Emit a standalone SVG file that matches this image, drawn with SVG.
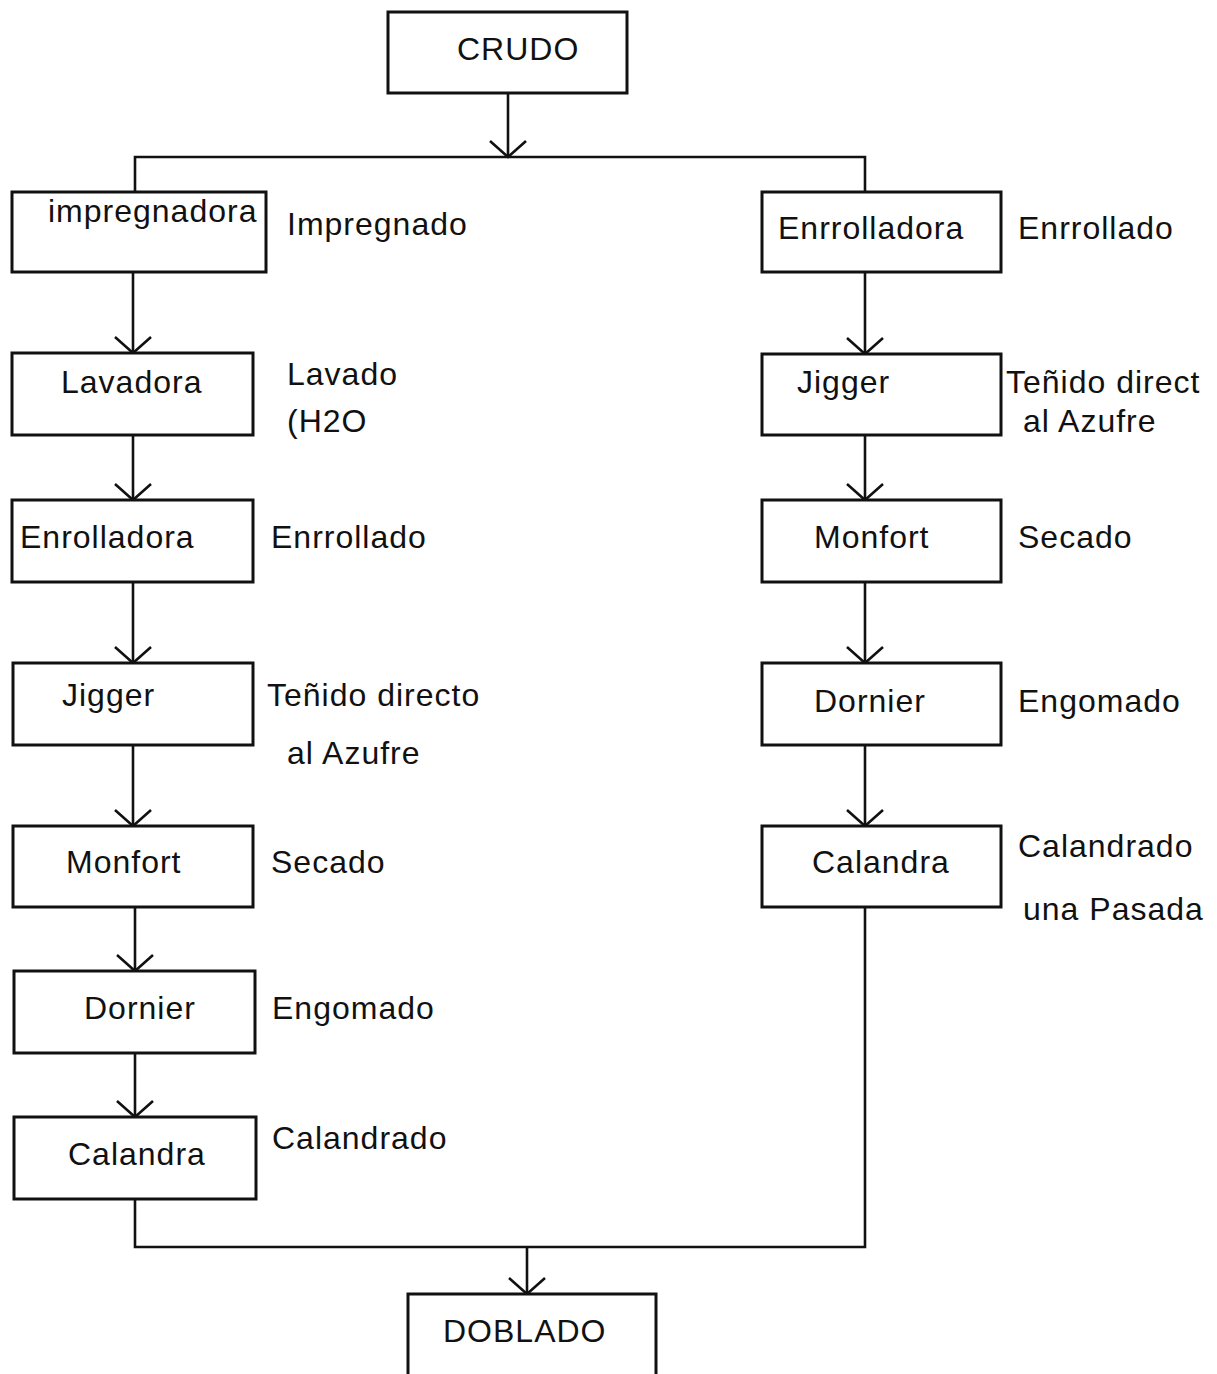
<svg xmlns="http://www.w3.org/2000/svg" width="1217" height="1374" viewBox="0 0 1217 1374">
  <style>
    .box { fill: #fff; stroke: #111; stroke-width: 3; }
    .txt { font-family: "Liberation Sans", Arial, sans-serif; font-size: 32px; letter-spacing: 1px; fill: #111; }
    .wire { fill: none; stroke: #111; stroke-width: 2.6; }
  </style>
  <defs>
    <marker id="vhead" markerUnits="userSpaceOnUse" markerWidth="40" markerHeight="40" refX="0" refY="0" orient="auto" overflow="visible">
      <path d="M-16,-18 L0,0 L-16,18" fill="none" stroke="#111" stroke-width="2.6"/>
    </marker>
  </defs>
  <rect width="1217" height="1374" fill="#fff"/>

  <g id="connectors" class="wire">
    <!-- split from CRUDO -->
    <line x1="508" y1="93" x2="508" y2="157" marker-end="url(#vhead)"/>
    <polyline points="135,193 135,157 865,157 865,193"/>
    <!-- left branch -->
    <line x1="133" y1="272" x2="133" y2="353" marker-end="url(#vhead)"/>
    <line x1="133" y1="435" x2="133" y2="500" marker-end="url(#vhead)"/>
    <line x1="133" y1="582" x2="133" y2="663" marker-end="url(#vhead)"/>
    <line x1="133" y1="745" x2="133" y2="826" marker-end="url(#vhead)"/>
    <line x1="135" y1="907" x2="135" y2="971" marker-end="url(#vhead)"/>
    <line x1="135" y1="1053" x2="135" y2="1117" marker-end="url(#vhead)"/>
    <!-- right branch -->
    <line x1="865" y1="272" x2="865" y2="354" marker-end="url(#vhead)"/>
    <line x1="865" y1="435" x2="865" y2="500" marker-end="url(#vhead)"/>
    <line x1="865" y1="582" x2="865" y2="663" marker-end="url(#vhead)"/>
    <line x1="865" y1="745" x2="865" y2="826" marker-end="url(#vhead)"/>
    <!-- merge into DOBLADO -->
    <polyline points="135,1199 135,1247 865,1247 865,907"/>
    <line x1="527" y1="1247" x2="527" y2="1294" marker-end="url(#vhead)"/>
  </g>

  <g id="crudo">
    <rect class="box" x="388" y="12" width="239" height="81"/>
    <text class="txt" x="457" y="60">CRUDO</text>
  </g>

  <!-- left line -->
  <g id="impregnadora">
    <rect class="box" x="12" y="192" width="254" height="80"/>
    <text class="txt" x="48" y="222">impregnadora</text>
    <text class="txt" x="287" y="235">Impregnado</text>
  </g>
  <g id="lavadora">
    <rect class="box" x="12" y="353" width="241" height="82"/>
    <text class="txt" x="61" y="393">Lavadora</text>
    <text class="txt" x="287" y="385">Lavado</text>
    <text class="txt" x="287" y="432">(H2O</text>
  </g>
  <g id="enrolladora-l">
    <rect class="box" x="12" y="500" width="241" height="82"/>
    <text class="txt" x="20" y="548">Enrolladora</text>
    <text class="txt" x="271" y="548">Enrrollado</text>
  </g>
  <g id="jigger-l">
    <rect class="box" x="13" y="663" width="240" height="82"/>
    <text class="txt" x="62" y="706">Jigger</text>
    <text class="txt" x="267" y="706">Teñido directo</text>
    <text class="txt" x="287" y="764">al Azufre</text>
  </g>
  <g id="monfort-l">
    <rect class="box" x="13" y="826" width="240" height="81"/>
    <text class="txt" x="66" y="873">Monfort</text>
    <text class="txt" x="271" y="873">Secado</text>
  </g>
  <g id="dornier-l">
    <rect class="box" x="14" y="971" width="241" height="82"/>
    <text class="txt" x="84" y="1019">Dornier</text>
    <text class="txt" x="272" y="1019">Engomado</text>
  </g>
  <g id="calandra-l">
    <rect class="box" x="14" y="1117" width="242" height="82"/>
    <text class="txt" x="68" y="1165">Calandra</text>
    <text class="txt" x="272" y="1149">Calandrado</text>
  </g>

  <!-- right line -->
  <g id="enrrolladora-r">
    <rect class="box" x="762" y="192" width="239" height="80"/>
    <text class="txt" x="778" y="239">Enrrolladora</text>
    <text class="txt" x="1018" y="239">Enrrollado</text>
  </g>
  <g id="jigger-r">
    <rect class="box" x="762" y="354" width="239" height="81"/>
    <text class="txt" x="797" y="393">Jigger</text>
    <text class="txt" x="1006" y="393">Teñido direct</text>
    <text class="txt" x="1023" y="432">al Azufre</text>
  </g>
  <g id="monfort-r">
    <rect class="box" x="762" y="500" width="239" height="82"/>
    <text class="txt" x="814" y="548">Monfort</text>
    <text class="txt" x="1018" y="548">Secado</text>
  </g>
  <g id="dornier-r">
    <rect class="box" x="762" y="663" width="239" height="82"/>
    <text class="txt" x="814" y="712">Dornier</text>
    <text class="txt" x="1018" y="712">Engomado</text>
  </g>
  <g id="calandra-r">
    <rect class="box" x="762" y="826" width="239" height="81"/>
    <text class="txt" x="812" y="873">Calandra</text>
    <text class="txt" x="1018" y="857">Calandrado</text>
    <text class="txt" x="1023" y="920">una Pasada</text>
  </g>

  <g id="doblado">
    <rect class="box" x="408" y="1294" width="248" height="100"/>
    <text class="txt" x="443" y="1342">DOBLADO</text>
  </g>
</svg>
